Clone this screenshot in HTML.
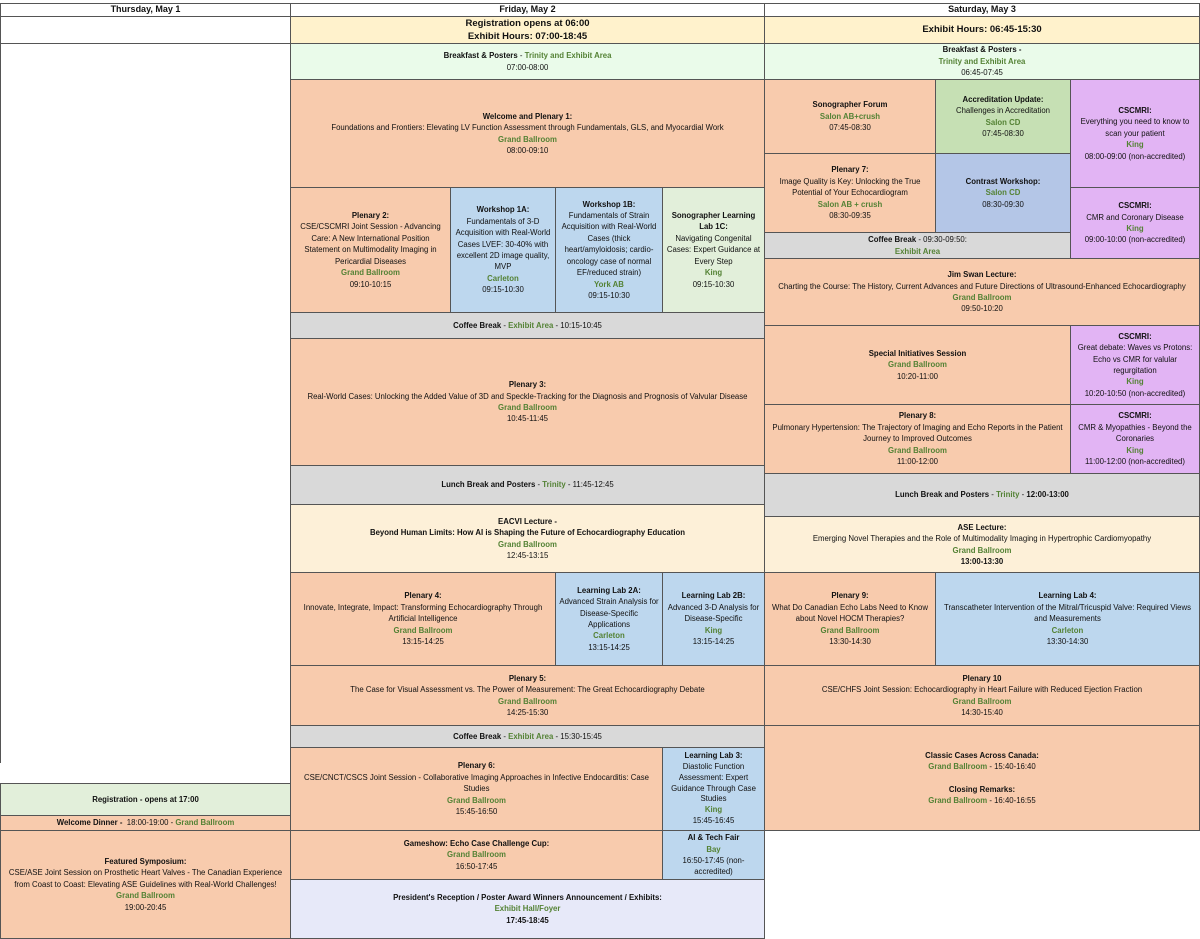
<!DOCTYPE html>
<html><head><meta charset="utf-8"><style>
body{margin:0;width:1200px;height:938px;position:relative;background:#fff;font-family:"Liberation Sans",sans-serif;font-size:7.8px;line-height:11.4px;color:#111;overflow:hidden}
.b{position:absolute;box-sizing:border-box;border:1px solid #555;display:flex;flex-direction:column;justify-content:center;align-items:center;text-align:center;padding:0 3px}
.b b{font-weight:bold}
.g{color:#548235;font-weight:bold}
.o{background:#f8cbad}.bl{background:#bdd7ee}.lg{background:#e2efda}.gr{background:#d9d9d9}.y{background:#fff2cc}.p{background:#e2b4f4}.mg{background:#c6e0b4}.cb{background:#b4c6e7}.lv{background:#e7e9f9}.bg{background:#eafbea}.ly{background:#fdf0d8}
.h{font-weight:bold;font-size:9px}
</style></head><body>
<div class="b h" style="left:0;top:3px;width:291px;height:14px">Thursday, May 1</div>
<div class="b h" style="left:290px;top:3px;width:475px;height:14px">Friday, May 2</div>
<div class="b h" style="left:764px;top:3px;width:436px;height:14px">Saturday, May 3</div>
<div class="b" style="left:0;top:16px;width:291px;height:28px"></div>
<div class="b h y" style="left:290px;top:16px;width:475px;height:28px;font-size:9.5px;line-height:13px">Registration opens at 06:00<br>Exhibit Hours: 07:00-18:45</div>
<div class="b h y" style="left:764px;top:16px;width:436px;height:28px;font-size:9.5px">Exhibit Hours: 06:45-15:30</div>
<div class="b" style="left:0;top:43px;width:291px;height:720px;border-bottom:none"></div>

<div class="b bg" style="left:290px;top:43px;width:475px;height:37px"><div><b>Breakfast &amp; Posters</b> - <span class="g">Trinity and Exhibit Area</span></div><div>07:00-08:00</div></div>
<div class="b o" style="left:290px;top:79px;width:475px;height:109px"><b>Welcome and Plenary 1:</b><div>Foundations and Frontiers: Elevating LV Function Assessment through Fundamentals, GLS, and Myocardial Work</div><span class="g">Grand Ballroom</span><div>08:00-09:10</div></div>
<div class="b o" style="left:290px;top:187px;width:161px;height:126px"><b>Plenary 2:</b><div>CSE/CSCMRI Joint Session - Advancing Care: A New International Position Statement on Multimodality Imaging in Pericardial Diseases</div><span class="g">Grand Ballroom</span><div>09:10-10:15</div></div>
<div class="b bl" style="left:450px;top:187px;width:106px;height:126px"><b>Workshop 1A:</b><div>Fundamentals of 3-D Acquisition with Real-World Cases LVEF: 30-40% with excellent 2D image quality, MVP</div><span class="g">Carleton</span><div>09:15-10:30</div></div>
<div class="b bl" style="left:555px;top:187px;width:108px;height:126px"><b>Workshop 1B:</b><div>Fundamentals of Strain Acquisition with Real-World Cases (thick heart/amyloidosis; cardio-oncology case of normal EF/reduced strain)</div><span class="g">York AB</span><div>09:15-10:30</div></div>
<div class="b lg" style="left:662px;top:187px;width:103px;height:126px"><b>Sonographer Learning Lab 1C:</b><div>Navigating Congenital Cases: Expert Guidance at Every Step</div><span class="g">King</span><div>09:15-10:30</div></div>
<div class="b gr" style="left:290px;top:312px;width:475px;height:27px"><div><b>Coffee Break</b> - <span class="g">Exhibit Area</span> - 10:15-10:45</div></div>
<div class="b o" style="left:290px;top:338px;width:475px;height:128px"><b>Plenary 3:</b><div>Real-World Cases: Unlocking the Added Value of 3D and Speckle-Tracking for the Diagnosis and Prognosis of Valvular Disease</div><span class="g">Grand Ballroom</span><div>10:45-11:45</div></div>
<div class="b gr" style="left:290px;top:465px;width:475px;height:40px"><div><b>Lunch Break and Posters</b> - <span class="g">Trinity</span> - 11:45-12:45</div></div>
<div class="b ly" style="left:290px;top:504px;width:475px;height:69px"><b>EACVI Lecture -</b><b>Beyond Human Limits: How AI is Shaping the Future of Echocardiography Education</b><span class="g">Grand Ballroom</span><div>12:45-13:15</div></div>
<div class="b o" style="left:290px;top:572px;width:266px;height:94px"><b>Plenary 4:</b><div>Innovate, Integrate, Impact: Transforming Echocardiography Through Artificial Intelligence</div><span class="g">Grand Ballroom</span><div>13:15-14:25</div></div>
<div class="b bl" style="left:555px;top:572px;width:108px;height:94px"><b>Learning Lab 2A:</b><div>Advanced Strain Analysis for Disease-Specific Applications</div><span class="g">Carleton</span><div>13:15-14:25</div></div>
<div class="b bl" style="left:662px;top:572px;width:103px;height:94px"><b>Learning Lab 2B:</b><div>Advanced 3-D Analysis for Disease-Specific</div><span class="g">King</span><div>13:15-14:25</div></div>
<div class="b o" style="left:290px;top:665px;width:475px;height:61px"><b>Plenary 5:</b><div>The Case for Visual Assessment vs. The Power of Measurement: The Great Echocardiography Debate</div><span class="g">Grand Ballroom</span><div>14:25-15:30</div></div>
<div class="b gr" style="left:290px;top:725px;width:475px;height:23px"><div><b>Coffee Break</b> - <span class="g">Exhibit Area</span> - 15:30-15:45</div></div>
<div class="b o" style="left:290px;top:747px;width:373px;height:84px"><b>Plenary 6:</b><div>CSE/CNCT/CSCS Joint Session - Collaborative Imaging Approaches in Infective Endocarditis: Case Studies</div><span class="g">Grand Ballroom</span><div>15:45-16:50</div></div>
<div class="b bl" style="left:662px;top:747px;width:103px;height:84px;line-height:10.8px"><b>Learning Lab 3:</b><div>Diastolic Function Assessment: Expert Guidance Through Case Studies</div><span class="g">King</span><div>15:45-16:45</div></div>
<div class="b o" style="left:290px;top:830px;width:373px;height:50px"><b>Gameshow: Echo Case Challenge Cup:</b><span class="g">Grand Ballroom</span><div>16:50-17:45</div></div>
<div class="b bl" style="left:662px;top:830px;width:103px;height:50px"><b>AI &amp; Tech Fair</b><span class="g">Bay</span><div>16:50-17:45 (non-accredited)</div></div>
<div class="b lv" style="left:290px;top:879px;width:475px;height:60px"><b>President's Reception / Poster Award Winners Announcement / Exhibits:</b><span class="g">Exhibit Hall/Foyer</span><b>17:45-18:45</b></div>

<div class="b lg" style="left:0;top:783px;width:291px;height:33px"><b>Registration - opens at 17:00</b></div>
<div class="b o" style="left:0;top:815px;width:291px;height:16px"><div><b>Welcome Dinner -</b>&nbsp; 18:00-19:00 - <span class="g">Grand Ballroom</span></div></div>
<div class="b o" style="left:0;top:830px;width:291px;height:109px"><b>Featured Symposium:</b><div>CSE/ASE Joint Session on Prosthetic Heart Valves - The Canadian Experience from Coast to Coast: Elevating ASE Guidelines with Real-World Challenges!</div><span class="g">Grand Ballroom</span><div>19:00-20:45</div></div>

<div class="b bg" style="left:764px;top:43px;width:436px;height:37px"><b>Breakfast &amp; Posters -</b><span class="g">Trinity and Exhibit Area</span><div>06:45-07:45</div></div>
<div class="b o" style="left:764px;top:79px;width:172px;height:75px"><b>Sonographer Forum</b><span class="g">Salon AB+crush</span><div>07:45-08:30</div></div>
<div class="b mg" style="left:935px;top:79px;width:136px;height:75px"><b>Accreditation Update:</b><div>Challenges in Accreditation</div><span class="g">Salon CD</span><div>07:45-08:30</div></div>
<div class="b p" style="left:1070px;top:79px;width:130px;height:109px"><b>CSCMRI:</b><div>Everything you need to know to scan your patient</div><span class="g">King</span><div>08:00-09:00 (non-accredited)</div></div>
<div class="b o" style="left:764px;top:153px;width:172px;height:80px"><b>Plenary 7:</b><div>Image Quality is Key: Unlocking the True Potential of Your Echocardiogram</div><span class="g">Salon AB + crush</span><div>08:30-09:35</div></div>
<div class="b cb" style="left:935px;top:153px;width:136px;height:80px"><b>Contrast Workshop:</b><span class="g">Salon CD</span><div>08:30-09:30</div></div>
<div class="b gr" style="left:764px;top:232px;width:307px;height:27px"><div><b>Coffee Break</b> - 09:30-09:50:</div><span class="g">Exhibit Area</span></div>
<div class="b p" style="left:1070px;top:187px;width:130px;height:72px"><b>CSCMRI:</b><div>CMR and Coronary Disease</div><span class="g">King</span><div>09:00-10:00 (non-accredited)</div></div>
<div class="b o" style="left:764px;top:258px;width:436px;height:68px"><b>Jim Swan Lecture:</b><div>Charting the Course: The History, Current Advances and Future Directions of Ultrasound-Enhanced Echocardiography</div><span class="g">Grand Ballroom</span><div>09:50-10:20</div></div>
<div class="b o" style="left:764px;top:325px;width:307px;height:80px"><b>Special Initiatives Session</b><span class="g">Grand Ballroom</span><div>10:20-11:00</div></div>
<div class="b p" style="left:1070px;top:325px;width:130px;height:80px"><b>CSCMRI:</b><div>Great debate: Waves vs Protons: Echo vs CMR for valular regurgitation</div><span class="g">King</span><div>10:20-10:50 (non-accredited)</div></div>
<div class="b o" style="left:764px;top:404px;width:307px;height:70px"><b>Plenary 8:</b><div>Pulmonary Hypertension: The Trajectory of Imaging and Echo Reports in the Patient Journey to Improved Outcomes</div><span class="g">Grand Ballroom</span><div>11:00-12:00</div></div>
<div class="b p" style="left:1070px;top:404px;width:130px;height:70px"><b>CSCMRI:</b><div>CMR &amp; Myopathies - Beyond the Coronaries</div><span class="g">King</span><div>11:00-12:00 (non-accredited)</div></div>
<div class="b gr" style="left:764px;top:473px;width:436px;height:44px"><div><b>Lunch Break and Posters</b> - <span class="g">Trinity</span> - <b>12:00-13:00</b></div></div>
<div class="b ly" style="left:764px;top:516px;width:436px;height:57px"><b>ASE Lecture:</b><div>Emerging Novel Therapies and the Role of Multimodality Imaging in Hypertrophic Cardiomyopathy</div><span class="g">Grand Ballroom</span><b>13:00-13:30</b></div>
<div class="b o" style="left:764px;top:572px;width:172px;height:94px"><b>Plenary 9:</b><div>What Do Canadian Echo Labs Need to Know about Novel HOCM Therapies?</div><span class="g">Grand Ballroom</span><div>13:30-14:30</div></div>
<div class="b bl" style="left:935px;top:572px;width:265px;height:94px"><b>Learning Lab 4:</b><div>Transcatheter Intervention of the Mitral/Tricuspid Valve: Required Views and Measurements</div><span class="g">Carleton</span><div>13:30-14:30</div></div>
<div class="b o" style="left:764px;top:665px;width:436px;height:61px"><b>Plenary 10</b><div>CSE/CHFS Joint Session: Echocardiography in Heart Failure with Reduced Ejection Fraction</div><span class="g">Grand Ballroom</span><div>14:30-15:40</div></div>
<div class="b o" style="left:764px;top:725px;width:436px;height:106px"><b>Classic Cases Across Canada:</b><div><span class="g">Grand Ballroom</span> - 15:40-16:40</div><div style="height:11px"></div><b>Closing Remarks:</b><div><span class="g">Grand Ballroom</span> - 16:40-16:55</div></div>
</body></html>
